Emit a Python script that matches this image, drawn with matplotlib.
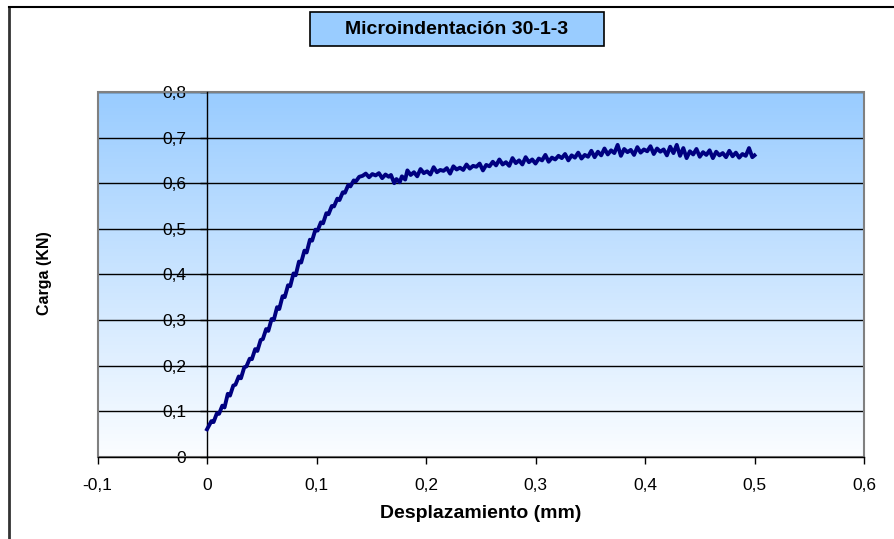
import numpy as np
import matplotlib
matplotlib.use('Agg')
import matplotlib.pyplot as plt
from matplotlib.patches import Rectangle
from matplotlib.lines import Line2D
from matplotlib.colors import LinearSegmentedColormap

plt.rcParams['font.family'] = ['Liberation Sans', 'DejaVu Sans']

titulo = 'Microindentación 30-1-3'
etiqueta_x = 'Desplazamiento (mm)'
etiqueta_y = 'Carga (KN)'

x_ticks = [-0.1, 0, 0.1, 0.2, 0.3, 0.4, 0.5, 0.6]
x_ticklabels = ['-0,1', '0', '0,1', '0,2', '0,3', '0,4', '0,5', '0,6']
y_ticks = [0, 0.1, 0.2, 0.3, 0.4, 0.5, 0.6, 0.7, 0.8]
y_ticklabels = ['0', '0,1', '0,2', '0,3', '0,4', '0,5', '0,6', '0,7', '0,8']

# desplazamiento (mm)
desplazamiento = [
    0.000, 0.004, 0.006, 0.009, 0.011, 0.014, 0.016, 0.019, 0.021, 0.024,
    0.026, 0.029, 0.031, 0.034, 0.036, 0.039, 0.041, 0.044, 0.046, 0.049,
    0.051, 0.054, 0.056, 0.059, 0.061, 0.064, 0.066, 0.069, 0.071, 0.074,
    0.076, 0.079, 0.081, 0.084, 0.086, 0.089, 0.091, 0.094, 0.096, 0.099,
    0.101, 0.104, 0.106, 0.109, 0.111, 0.114, 0.116, 0.119, 0.121, 0.124,
    0.126, 0.129, 0.131, 0.134, 0.136, 0.139, 0.142, 0.145, 0.148, 0.151,
    0.154, 0.157, 0.160, 0.163, 0.166, 0.168, 0.171, 0.173, 0.176, 0.178,
    0.181, 0.183, 0.186, 0.189, 0.192, 0.195, 0.198, 0.201, 0.204, 0.207,
    0.210, 0.213, 0.216, 0.219, 0.222, 0.225, 0.228, 0.231, 0.234, 0.237,
    0.240, 0.243, 0.246, 0.249, 0.252, 0.255, 0.258, 0.261, 0.264, 0.267,
    0.270, 0.273, 0.276, 0.279, 0.282, 0.285, 0.288, 0.291, 0.294, 0.297,
    0.300, 0.303, 0.306, 0.309, 0.312, 0.315, 0.318, 0.321, 0.324, 0.327,
    0.330, 0.333, 0.336, 0.339, 0.342, 0.345, 0.348, 0.351, 0.354, 0.357,
    0.360, 0.363, 0.366, 0.369, 0.372, 0.375, 0.378, 0.381, 0.384, 0.387,
    0.390, 0.393, 0.396, 0.399, 0.402, 0.405, 0.408, 0.411, 0.414, 0.417,
    0.420, 0.423, 0.426, 0.429, 0.432, 0.435, 0.438, 0.441, 0.444, 0.447,
    0.450, 0.453, 0.456, 0.459, 0.462, 0.465, 0.468, 0.471, 0.474, 0.477,
    0.480, 0.483, 0.486, 0.489, 0.492, 0.495, 0.498, 0.500,
]

# carga (kN)
carga = [
    0.060, 0.078, 0.076, 0.095, 0.094, 0.112, 0.108, 0.138, 0.134, 0.156,
    0.158, 0.176, 0.172, 0.196, 0.198, 0.215, 0.214, 0.236, 0.232, 0.256,
    0.258, 0.280, 0.276, 0.302, 0.300, 0.328, 0.324, 0.352, 0.350, 0.376,
    0.374, 0.402, 0.398, 0.428, 0.426, 0.452, 0.448, 0.476, 0.474, 0.498,
    0.496, 0.514, 0.512, 0.534, 0.532, 0.550, 0.549, 0.566, 0.563, 0.580,
    0.579, 0.596, 0.593, 0.606, 0.604, 0.614, 0.616, 0.621, 0.613, 0.620,
    0.617, 0.622, 0.611, 0.619, 0.614, 0.618, 0.600, 0.609, 0.602, 0.615,
    0.608, 0.628, 0.618, 0.624, 0.615, 0.631, 0.622, 0.626, 0.619, 0.635,
    0.624, 0.629, 0.627, 0.633, 0.621, 0.637, 0.630, 0.634, 0.629, 0.641,
    0.632, 0.638, 0.636, 0.643, 0.628, 0.640, 0.637, 0.647, 0.639, 0.652,
    0.641, 0.646, 0.638, 0.655, 0.644, 0.650, 0.641, 0.657, 0.646, 0.652,
    0.643, 0.654, 0.650, 0.662, 0.647, 0.656, 0.652, 0.660, 0.655, 0.664,
    0.650, 0.661, 0.656, 0.667, 0.654, 0.662, 0.658, 0.671, 0.657, 0.669,
    0.661, 0.676, 0.663, 0.672, 0.666, 0.684, 0.660, 0.675, 0.668, 0.673,
    0.662, 0.679, 0.667, 0.674, 0.670, 0.681, 0.664, 0.676, 0.669, 0.674,
    0.661, 0.680, 0.666, 0.684, 0.660, 0.677, 0.655, 0.670, 0.663, 0.675,
    0.658, 0.668, 0.662, 0.672, 0.655, 0.669, 0.661, 0.666, 0.657, 0.671,
    0.659, 0.667, 0.656, 0.664, 0.660, 0.677, 0.657, 0.661,
]

fig = plt.figure(figsize=(8.94, 5.39), dpi=100)
ax = fig.add_axes([97.5 / 894, 1 - 456.7 / 539, (864 - 97.5) / 894, (456.7 - 92) / 539])

# fondo degradado azul -> blanco
cmap = LinearSegmentedColormap.from_list('fondo', ['#fbfdff', '#99ccff'])
grad = np.linspace(0, 1, 256).reshape(-1, 1)
ax.imshow(grad, cmap=cmap, origin='lower', extent=[0, 1, 0, 1],
          transform=ax.transAxes, aspect='auto', zorder=0)

ax.set_xlim(-0.1, 0.6)
ax.set_ylim(0, 0.8)

for yv in y_ticks[1:]:
    ax.axhline(yv, color='black', lw=1.0, zorder=1)

ax.plot(desplazamiento, carga, color='#000080', lw=2.8, zorder=3,
        solid_joinstyle='round')

# marco gris del área de trazado
ax.add_patch(Rectangle((0, 0), 1, 1, transform=ax.transAxes, fill=False,
                       edgecolor='#808080', lw=1.5, zorder=2, clip_on=False))

ax.spines['left'].set_position(('data', 0))
ax.spines['bottom'].set_position(('data', 0))
ax.spines['top'].set_visible(False)
ax.spines['right'].set_visible(False)
for s in ('left', 'bottom'):
    ax.spines[s].set_color('black')
    ax.spines[s].set_linewidth(1.0)
    ax.spines[s].set_zorder(2.5)

ax.set_xticks(x_ticks)
ax.set_xticklabels(x_ticklabels)
ax.set_yticks(y_ticks)
ax.set_yticklabels(y_ticklabels)
ax.tick_params(axis='both', direction='out', length=5, width=1, colors='black',
               labelsize=12.5)
ax.tick_params(axis='y', pad=10)
ax.tick_params(axis='x', pad=10)

fig.text(481 / 894, 1 - 513 / 539, etiqueta_x, ha='center', va='center',
         fontsize=14, fontweight='bold')
fig.text(45 / 894, 1 - 273 / 539, etiqueta_y, ha='center', va='center',
         rotation=90, fontsize=11.5, fontweight='bold')

# caja del título
fig.patches.append(Rectangle((310 / 894, 1 - 46 / 539), 294 / 894, 34 / 539,
                             transform=fig.transFigure, facecolor='#99ccff',
                             edgecolor='black', lw=1.2))
fig.text(457 / 894, 1 - 29 / 539, titulo, ha='center', va='center',
         fontsize=14, fontweight='bold')

# borde del gráfico (izquierda y arriba)
fig.add_artist(Line2D([8.5 / 894, 8.5 / 894], [0, 1 - 7 / 539],
                      transform=fig.transFigure, color='#333333', lw=2))
fig.add_artist(Line2D([8.5 / 894, 1], [1 - 7 / 539, 1 - 7 / 539],
                      transform=fig.transFigure, color='black', lw=1.5))

fig.savefig('out.png', dpi=100)
